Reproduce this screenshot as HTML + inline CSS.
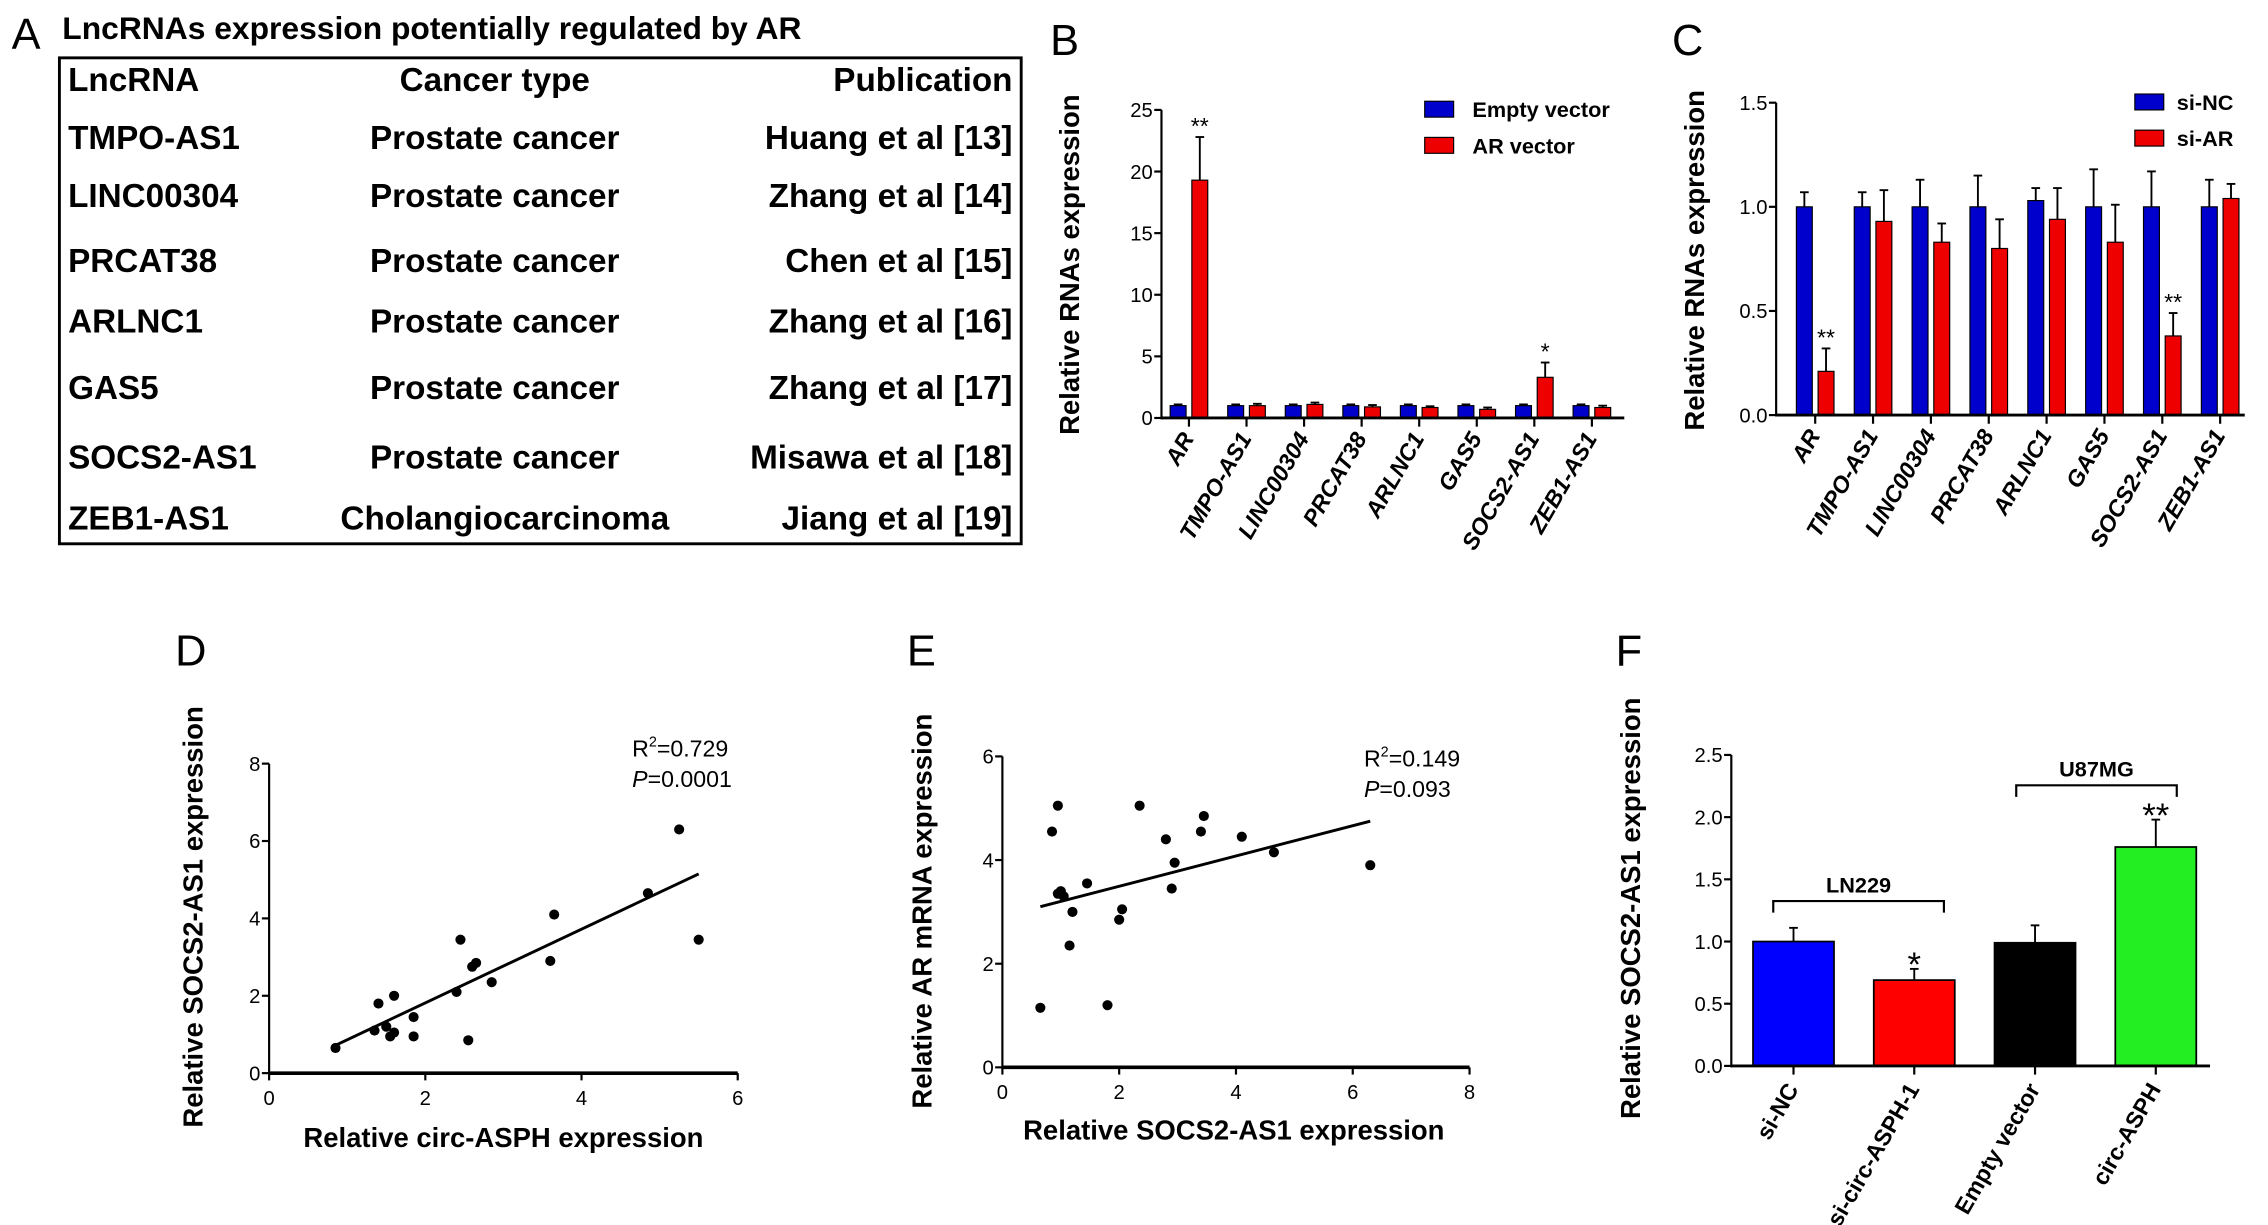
<!DOCTYPE html>
<html><head><meta charset="utf-8"><style>
html,body{margin:0;padding:0;background:#fff}
svg{display:block}
text{font-family:"Liberation Sans",Arial,sans-serif}
</style></head><body>
<svg id="fig" width="2268" height="1225" viewBox="0 0 1568 847" xmlns="http://www.w3.org/2000/svg">
<g id="panelA">
<text x="8" y="34" font-size="30">A</text>
<text x="43" y="27" font-size="22" font-weight="bold">LncRNAs expression potentially regulated by AR</text>
<rect x="41" y="40" width="665" height="336" fill="none" stroke="#000" stroke-width="2"/>
</g>
<g id="plots"></g>
</svg>
<script>
const NS="http://www.w3.org/2000/svg";
const svg=document.getElementById('plots');
function el(tag,attrs,parent,txt){const e=document.createElementNS(NS,tag);for(const k in attrs)e.setAttribute(k,attrs[k]);if(txt!==undefined)e.textContent=txt;(parent||svg).appendChild(e);return e;}

// ---- Table A data
const tableRows=[["LncRNA","Cancer type","Publication"],["TMPO-AS1","Prostate cancer","Huang et al [13]"],["LINC00304","Prostate cancer","Zhang et al [14]"],["PRCAT38","Prostate cancer","Chen et al [15]"],["ARLNC1","Prostate cancer","Zhang et al [16]"],["GAS5","Prostate cancer","Zhang et al [17]"],["SOCS2-AS1","Prostate cancer","Misawa et al [18]"],["ZEB1-AS1","Cholangiocarcinoma","Jiang et al [19]"]];
const rowY=[63,103,143,188,230,276,324,366];
const pA=document.getElementById('panelA');
tableRows.forEach((r,i)=>{
  const y=rowY[i];
  let t=el('text',{x:47,y:y,'font-size':23,'font-weight':'bold'},pA,r[0]);
  
  
  t=el('text',{x:i==7?349:342,y:y,'font-size':23,'font-weight':'bold','text-anchor':'middle'},pA,r[1]);
  
  
  t=el('text',{x:700,y:y,'font-size':23,'font-weight':'bold','text-anchor':'end'},pA,r[2]);
  
  
});

// ---- Panel B data
const catsBC=["AR","TMPO-AS1","LINC00304","PRCAT38","ARLNC1","GAS5","SOCS2-AS1","ZEB1-AS1"];
const bBlue=[1,1,1,1,1,1,1,1];
const bBlueErr=[0.1,0.1,0.1,0.1,0.1,0.1,0.1,0.1];
const bRed=[19.3,1,1.1,0.9,0.85,0.7,3.3,0.85];
const bRedErr=[3.5,0.15,0.15,0.15,0.1,0.15,1.2,0.15];
const bStars=["**","","","","","","*",""];
const bTicks=[0,5,10,15,20,25];
// ---- Panel C data
const cBlue=[1,1,1,1,1.03,1,1,1];
const cBlueErr=[0.07,0.07,0.13,0.15,0.06,0.18,0.17,0.13];
const cRed=[0.21,0.93,0.83,0.8,0.94,0.83,0.38,1.04];
const cRedErr=[0.11,0.15,0.09,0.14,0.15,0.18,0.11,0.07];
const cStars=["**","","","","","","**",""];
const cTicks=[0.0,0.5,1.0,1.5];
// ---- Panel D data
const dX=[0.85,1.35,1.4,1.5,1.55,1.6,1.6,1.85,1.85,2.4,2.45,2.55,2.6,2.65,2.85,3.6,3.65,4.85,5.25,5.5];
const dY=[0.65,1.1,1.8,1.2,0.95,1.05,2.0,1.45,0.95,2.1,3.45,0.85,2.75,2.85,2.35,2.9,4.1,4.65,6.3,3.45];
const dFitX=[0.85,5.5];const dFitY=[0.72,5.15];
const dXTicks=[0,2,4,6];const dYTicks=[0,2,4,6,8];
// ---- Panel E data
const eX=[0.65,0.85,0.95,0.95,1.0,1.05,1.15,1.2,1.45,1.8,2.0,2.05,2.35,2.8,2.9,2.95,3.4,3.45,4.1,4.65,6.3];
const eY=[1.15,4.55,5.05,3.35,3.4,3.3,2.35,3.0,3.55,1.2,2.85,3.05,5.05,4.4,3.45,3.95,4.55,4.85,4.45,4.15,3.9];
const eFitX=[0.65,6.3];const eFitY=[3.1,4.75];
const eXTicks=[0,2,4,6,8];const eYTicks=[0,2,4,6];
// ---- Panel F data
const fCats=["si-NC","si-circ-ASPH-1","Empty vector","circ-ASPH"];
const fVals=[1.0,0.69,0.99,1.76];
const fErr=[0.11,0.09,0.14,0.22];
const fStars=["","*","","**"];
const fTicks=[0.0,0.5,1.0,1.5,2.0,2.5];
const fColors=["#0000ff","#ff0000","#000000","#22ee22"];

function lin(d0,d1,r0,r1){return v=>r0+(v-d0)/(d1-d0)*(r1-r0);}
function nm(e,n,i){return e;}

function yAxis(g,x,ys,ticks,fmt){
  nm(el('line',{x1:x,y1:ys(ticks[0])+1,x2:x,y2:ys(ticks[ticks.length-1]),stroke:'#000','stroke-width':1.5},g),'y-axis-line');
  ticks.forEach(t=>{
    nm(el('line',{x1:x-5,y1:ys(t),x2:x,y2:ys(t),stroke:'#000','stroke-width':1.5},g),'y-tick');
    nm(el('text',{x:x-6,y:ys(t)+5,'font-size':14,'text-anchor':'end'},g,fmt(t)),'y-tick-label');
  });
}
function ylabel(g,x,y,txt){nm(el('text',{x:x,y:y,'font-size':19,'font-weight':'bold','text-anchor':'middle',transform:`rotate(-90 ${x} ${y})`},g,txt),'y-axis-title');}
function errbar(g,x,ytop,yerr){
  nm(el('line',{x1:x,y1:ytop,x2:x,y2:yerr,stroke:'#000','stroke-width':1.3},g),'error-bar');
  nm(el('line',{x1:x-3,y1:yerr,x2:x+3,y2:yerr,stroke:'#000','stroke-width':1.3},g),'error-cap');
}

function groupedPanel(opts){
  const g=el('g',{});nm(g,opts.name);
  const ys=lin(opts.ticks[0],opts.ticks[opts.ticks.length-1],opts.y0,opts.y1);
  nm(el('text',{x:opts.lx,y:opts.ly,'font-size':30},g,opts.letter),'panel-label');
  ylabel(g,opts.ylx,opts.yly,"Relative RNAs expression");
  yAxis(g,opts.x0,ys,opts.ticks,opts.fmt);
  catsBC.forEach((c,i)=>{
    const cx=opts.c0+i*opts.step;
    const bw=11;
    [[opts.blue,opts.blueErr,'#0000cc',-1],[opts.red,opts.redErr,'#ee0000',1]].forEach(([v,e,col,s])=>{
      const x=cx+s*7.5-bw/2;
      nm(el('rect',{x:x,y:ys(v[i]),width:bw,height:ys(0)-ys(v[i]),fill:col,stroke:'#000','stroke-width':0.8},g),s<0?'bar-blue':'bar-red');
      errbar(g,cx+s*7.5,ys(v[i]),ys(v[i]+e[i]));
    });
    if(opts.stars[i]) nm(el('text',{x:cx+7.5,y:ys(opts.red[i]+opts.redErr[i])-2,'font-size':16,'text-anchor':'middle'},g,opts.stars[i]),'significance-star');
    nm(el('line',{x1:cx,y1:ys(0),x2:cx,y2:ys(0)+6,stroke:'#000','stroke-width':1.5},g),'x-tick');
    const tx=cx+4,ty=ys(0)+14;
    nm(el('text',{x:tx,y:ty,'font-size':16,'font-weight':'bold','font-style':'italic','text-anchor':'end',transform:`rotate(-60 ${tx} ${ty})`},g,c),'x-tick-label');
  });
  nm(el('line',{x1:opts.x0,y1:ys(0),x2:opts.x1,y2:ys(0),stroke:'#000','stroke-width':2},g),'x-axis-line');
  opts.legend.forEach((L,i)=>{
    const ly=opts.legY+i*25;
    nm(el('rect',{x:opts.legX,y:ly-6,width:20,height:11,fill:i?'#ee0000':'#0000cc',stroke:'#000','stroke-width':0.8},g),'legend-swatch');
    nm(el('text',{x:opts.legX+(opts.legGap),y:ly+5,'font-size':15,'font-weight':'bold'},g,L),'legend-entry');
  });
}
groupedPanel({name:'panel-b-chart',letter:'B',lx:726,ly:38,ylx:746,yly:183,x0:803,x1:1123,y0:289,y1:76,ticks:bTicks,fmt:t=>String(t),
  c0:822,step:39.8,blue:bBlue,blueErr:bBlueErr,red:bRed,redErr:bRedErr,stars:bStars,legend:["Empty vector","AR vector"],legX:985,legY:76,legGap:33});
groupedPanel({name:'panel-c-chart',letter:'C',lx:1156,ly:38,ylx:1178,yly:180,x0:1228,x1:1552,y0:287,y1:71,ticks:cTicks,fmt:t=>t.toFixed(1),
  c0:1255,step:40,blue:cBlue,blueErr:cBlueErr,red:cRed,redErr:cRedErr,stars:cStars,legend:["si-NC","si-AR"],legX:1476,legY:71,legGap:29});

function scatter(o){
  const g=el('g',{});nm(g,o.name);
  const xs=lin(o.xt[0],o.xt[o.xt.length-1],o.x0,o.x1);
  const ys=lin(o.yt[0],o.yt[o.yt.length-1],o.y0,o.y1);
  nm(el('text',{x:o.lx,y:o.ly,'font-size':30},g,o.letter),'panel-label');
  yAxis(g,o.x0,ys,o.yt,t=>String(t));
  nm(el('line',{x1:o.x0,y1:o.y0,x2:o.x1,y2:o.y0,stroke:'#000','stroke-width':2.5},g),'x-axis-line');
  o.xt.forEach(t=>{
    nm(el('line',{x1:xs(t),y1:o.y0,x2:xs(t),y2:o.y0+5,stroke:'#000','stroke-width':1.5},g),'x-tick');
    nm(el('text',{x:xs(t),y:o.y0+22,'font-size':14,'text-anchor':'middle'},g,String(t)),'x-tick-label');
  });
  nm(el('text',{x:o.xlx,y:o.xly,'font-size':19,'font-weight':'bold','text-anchor':'middle'},g,o.xlabel),'x-axis-title');
  ylabel(g,o.ylx,o.yly,o.ylabel);
  nm(el('line',{x1:xs(o.fx[0]),y1:ys(o.fy[0]),x2:xs(o.fx[1]),y2:ys(o.fy[1]),stroke:'#000','stroke-width':2},g),'regression-line');
  o.px.forEach((v,i)=>{nm(el('circle',{cx:xs(v),cy:ys(o.py[i]),r:3.5,fill:'#000'},g),'data-point');});
  const t1=nm(el('text',{x:o.rx,y:o.ry,'font-size':16},g),'r-squared-label');
  el('tspan',{},t1,'R');el('tspan',{dy:-7,'font-size':10},t1,'2');el('tspan',{dy:7},t1,'='+o.r2);
  const t2=nm(el('text',{x:o.rx,y:o.ry+21,'font-size':16},g),'p-value-label');
  el('tspan',{'font-style':'italic'},t2,'P');el('tspan',{},t2,'='+o.p);
}
scatter({name:'panel-d-scatter',letter:'D',lx:121,ly:460,x0:186,x1:510,y0:742,y1:528,xt:dXTicks,yt:dYTicks,px:dX,py:dY,fx:dFitX,fy:dFitY,
  xlabel:'Relative circ-ASPH expression',xlx:348,xly:793,ylabel:'Relative SOCS2-AS1 expression',ylx:140,yly:634,rx:437,ry:523,r2:'0.729',p:'0.0001'});
scatter({name:'panel-e-scatter',letter:'E',lx:627,ly:460,x0:693,x1:1016,y0:738,y1:523,xt:eXTicks,yt:eYTicks,px:eX,py:eY,fx:eFitX,fy:eFitY,
  xlabel:'Relative SOCS2-AS1 expression',xlx:853,xly:788,ylabel:'Relative AR mRNA expression',ylx:644,yly:630,rx:943,ry:530,r2:'0.149',p:'0.093'});

// Panel F
(function(){
  const g=el('g',{});nm(g,'panel-f-chart');
  const ys=lin(0,2.5,737,522);
  nm(el('text',{x:1117,y:460,'font-size':30},g,'F'),'panel-label');
  yAxis(g,1197,ys,fTicks,t=>t.toFixed(1));
  ylabel(g,1134,628,'Relative SOCS2-AS1 expression');
  const c0=1240,step=83.5,bw=56;
  fCats.forEach((c,i)=>{
    const cx=c0+i*step;
    nm(el('rect',{x:cx-bw/2,y:ys(fVals[i]),width:bw,height:ys(0)-ys(fVals[i]),fill:fColors[i],stroke:'#000','stroke-width':1.2},g),'bar-'+c.toLowerCase().replace(/\s+/g,'-'));
    errbar(g,cx,ys(fVals[i]),ys(fVals[i]+fErr[i]));
    if(fStars[i]) nm(el('text',{x:cx,y:ys(fVals[i]+fErr[i])+5,'font-size':24,'text-anchor':'middle'},g,fStars[i]),'significance-star');
    nm(el('line',{x1:cx,y1:ys(0),x2:cx,y2:ys(0)+6,stroke:'#000','stroke-width':1.5},g),'x-tick');
    const tx=cx+4,ty=ys(0)+16;
    nm(el('text',{x:tx,y:ty,'font-size':16,'font-weight':'bold','text-anchor':'end',transform:`rotate(-60 ${tx} ${ty})`},g,c),'x-tick-label');
  });
  nm(el('line',{x1:1197,y1:ys(0),x2:1528,y2:ys(0),stroke:'#000','stroke-width':2},g),'x-axis-line');
  [[1226,1344,623,'LN229'],[1394,1505,543,'U87MG']].forEach(b=>{
    nm(el('path',{d:`M${b[0]} ${b[2]+8}V${b[2]}H${b[1]}V${b[2]+8}`,fill:'none',stroke:'#000','stroke-width':1.5},g),'group-bracket');
    nm(el('text',{x:(b[0]+b[1])/2,y:b[2]-6,'font-size':15,'font-weight':'bold','text-anchor':'middle'},g,b[3]),'group-label');
  });
})();
</script>
</body></html>
